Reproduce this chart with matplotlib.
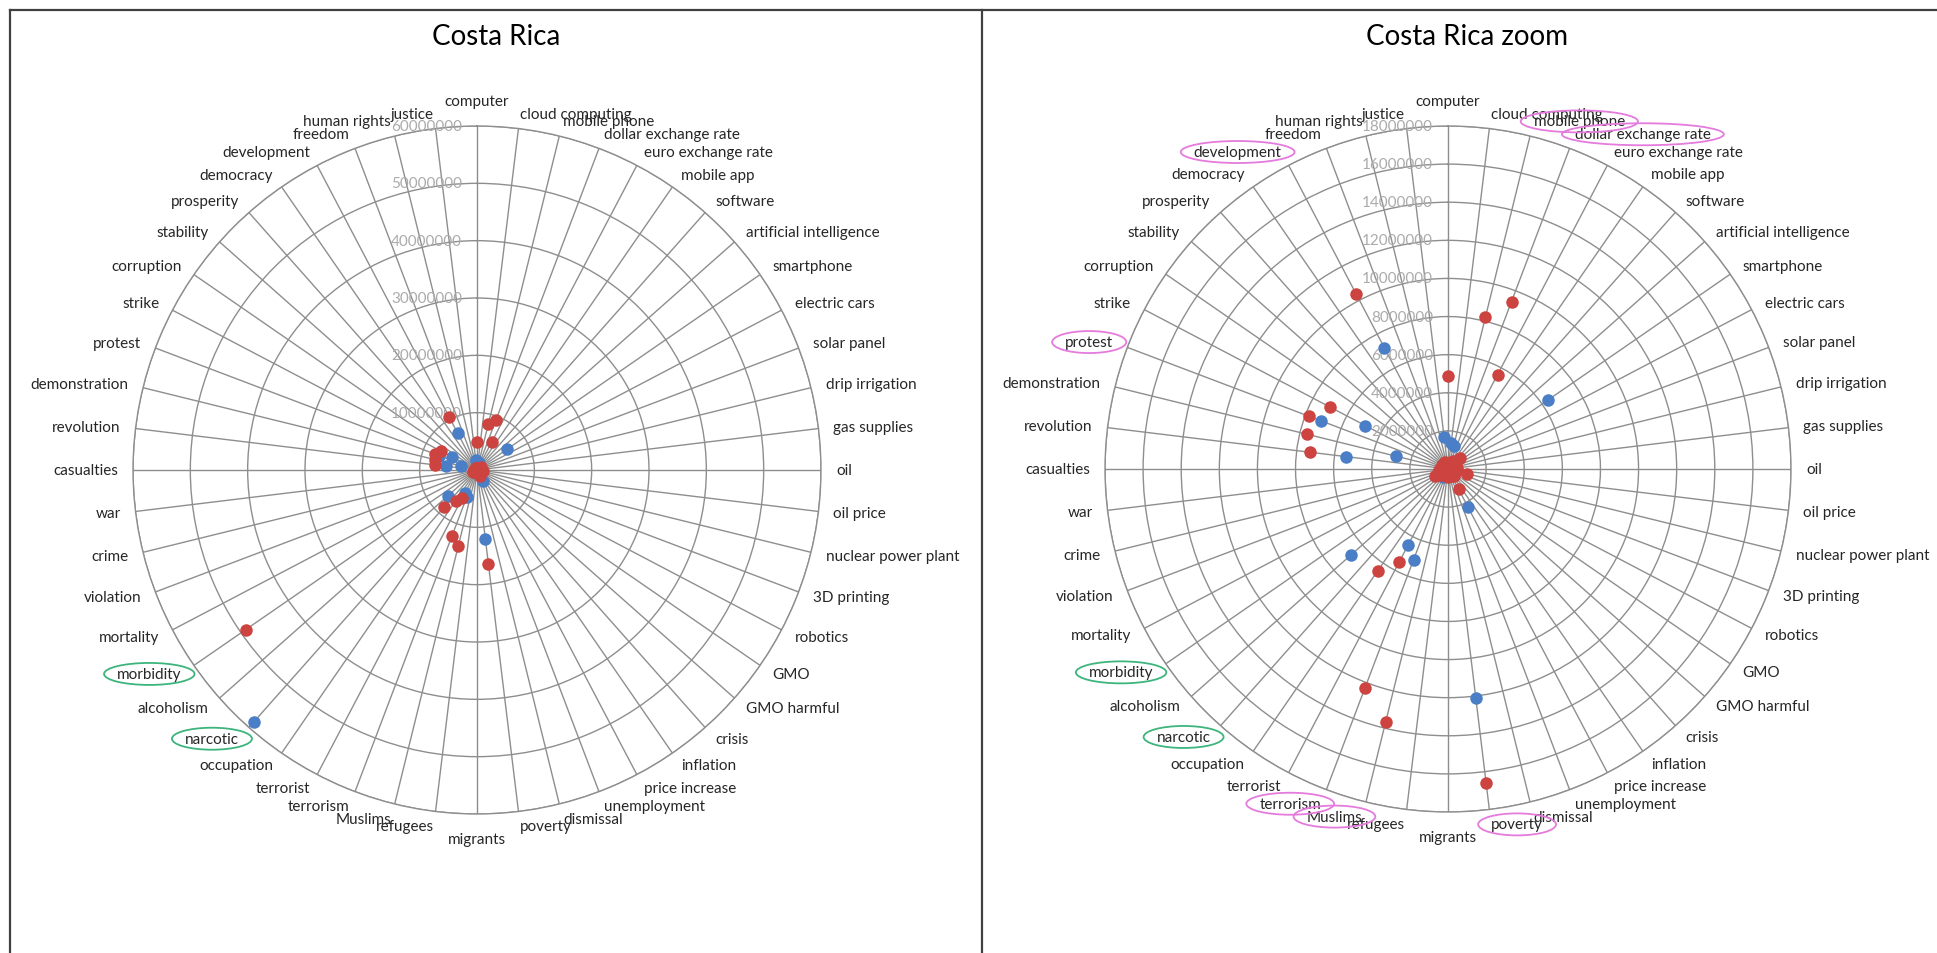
import numpy as np
import matplotlib
matplotlib.use("Agg")
import matplotlib.pyplot as plt
from matplotlib.lines import Line2D
from matplotlib.patches import Ellipse
from matplotlib.transforms import IdentityTransform

# ---------------- data ----------------
categories = [
    "computer", "cloud computing", "mobile phone", "dollar exchange rate",
    "euro exchange rate", "mobile app", "software", "artificial intelligence",
    "smartphone", "electric cars", "solar panel", "drip irrigation",
    "gas supplies", "oil", "oil price", "nuclear power plant", "3D printing",
    "robotics", "GMO", "GMO harmful", "crisis", "inflation", "price increase",
    "unemployment", "dismissal", "poverty", "migrants", "refugees", "Muslims",
    "terrorism", "terrorist", "occupation", "narcotic", "alcoholism",
    "morbidity", "mortality", "violation", "crime", "war", "casualties",
    "revolution", "demonstration", "protest", "strike", "corruption",
    "stability", "prosperity", "democracy", "development", "freedom",
    "human rights", "justice",
]

# values in millions
blue_values = [
    0.3, 1.4, 1.27, 0.3, 0.2, 0.2, 0.3, 0.2, 6.4, 0.1,
    0.1, 0.05, 0.2, 0.3, 0.2, 0.05, 0.1, 0.1, 0.1, 0.05,
    0.3, 0.2, 2.25, 0.3, 0.2, 12.1, 0.3, 0.2, 0.3, 5.1,
    4.5, 0.5, 58.7, 6.8, 0.5, 0.4, 0.2, 0.4, 0.3, 0.2,
    5.4, 2.8, 7.1, 4.9, 0.3, 0.2, 0.2, 0.3, 7.2, 0.3,
    0.2, 1.67,
]
red_values = [
    4.9, 0.3, 8.2, 9.4, 5.6, 0.5, 0.4, 0.87, 0.5, 0.3,
    0.3, 0.2, 0.45, 0.4, 0.5, 1.05, 0.4, 0.3, 0.3, 0.27,
    0.5, 0.4, 1.2, 0.4, 0.3, 16.6, 0.4, 0.3, 13.7, 12.3,
    5.5, 6.5, 0.4, 0.5, 49.0, 0.78, 0.54, 0.5, 0.5, 0.4,
    7.3, 7.6, 7.8, 7.0, 0.37, 0.3, 0.3, 0.4, 10.4, 0.4,
    0.3, 0.3,
]
# the overview chart shows one extra red point at "narcotic"
red_overview_changes = {"narcotic": 8.7}

overview_rings = [10000000, 20000000, 30000000, 40000000, 50000000, 60000000]
zoom_rings = [2000000, 4000000, 6000000, 8000000, 10000000, 12000000,
              14000000, 16000000, 18000000]

titles = ["Costa Rica", "Costa Rica zoom"]

green_marked = ["morbidity", "narcotic"]
pink_marked = ["mobile phone", "dollar exchange rate", "development",
               "protest", "terrorism", "Muslims", "poverty"]

# ---------------- style ----------------
W, H = 1937, 954
FONT = ["Lato", "DejaVu Sans"]
BLUE = "#4A7EC6"
RED = "#CC4340"
GRID = "#8e8e8e"
VAL = "#ababab"
BORDER = "#404040"
GREEN = "#3DB57C"
PINK = "#E47BDD"
FS = 11

plt.rcParams["font.family"] = FONT

fig = plt.figure(figsize=(W / 100, H / 100), dpi=100)
fig.patch.set_facecolor("white")

n = len(categories)
theta = np.arange(n) * 2 * np.pi / n

blue = np.array(blue_values) * 1e6
red = np.array(red_values) * 1e6
red_overview = red.copy()
for k, v in red_overview_changes.items():
    red_overview[categories.index(k)] = v * 1e6


def radar(cx, cy, R, rings, bvals, rvals):
    rect = [(cx - R) / W, 1 - (cy + R) / H, 2 * R / W, 2 * R / H]
    ax = fig.add_axes(rect, projection="polar")
    ax.set_theta_zero_location("N")
    ax.set_theta_direction(-1)
    ax.set_xticks(theta)
    ax.set_xticklabels([])
    ax.set_ylim(0, rings[-1])
    ax.set_yticks(rings)
    ax.set_yticklabels([])
    ax.tick_params(length=0)
    ax.grid(True, color=GRID, lw=1.0)
    ax.spines["polar"].set_color(GRID)
    ax.spines["polar"].set_linewidth(1.0)
    ax.set_facecolor("white")

    ax.plot(theta, bvals, "o", color=BLUE, ms=9, mec="none", zorder=4)
    ax.plot(theta, rvals, "o", color=RED, ms=9, mec="none", zorder=5)

    for r in rings:
        ax.annotate(str(r), xy=(0, r), xycoords="data", xytext=(-15, 0),
                    textcoords="offset pixels", ha="right", va="center",
                    color=VAL, fontsize=FS, zorder=3, annotation_clip=False)

    labels = {}
    for th, name in zip(theta, categories):
        s, c = np.sin(th), np.cos(th)
        if abs(s) < 1e-6:
            ha = "center"
            off = (0, 25 * c)
        else:
            ha = "left" if s > 0 else "right"
            off = (15 * s, 15 * c)
        labels[name] = ax.annotate(
            name, xy=(th, rings[-1]), xycoords="data", xytext=off,
            textcoords="offset pixels", ha=ha, va="center",
            color="#262626", fontsize=FS, annotation_clip=False)
    return ax, labels


ax1, lab1 = radar(477, 471, 344, overview_rings, blue, red_overview)
ax2, lab2 = radar(1448, 470, 343, zoom_rings, blue, red)

fig.text(496 / W, 1 - 37 / H, titles[0], ha="center", va="center",
         fontsize=20, color="black")
fig.text(1467 / W, 1 - 37 / H, titles[1], ha="center", va="center",
         fontsize=20, color="black")

# hand-drawn style ellipses around highlighted labels
fig.canvas.draw()
renderer = fig.canvas.get_renderer()


def mark(text, color):
    bb = text.get_window_extent(renderer)
    cxp = (bb.x0 + bb.x1) / 2
    cyp = (bb.y0 + bb.y1) / 2
    e = Ellipse((cxp, cyp), bb.width + 26, bb.height + 8,
                transform=IdentityTransform(), fill=False,
                edgecolor=color, lw=1.3)
    fig.add_artist(e)


for name in green_marked:
    mark(lab1[name], GREEN)
    mark(lab2[name], GREEN)
for name in pink_marked:
    mark(lab2[name], PINK)

# table borders
fig.add_artist(Line2D([10 / W, 1], [1 - 10.5 / H, 1 - 10.5 / H],
                      transform=fig.transFigure, color=BORDER, lw=1.6))
fig.add_artist(Line2D([10 / W, 10 / W], [0, 1 - 10.5 / H],
                      transform=fig.transFigure, color=BORDER, lw=1.6))
fig.add_artist(Line2D([982 / W, 982 / W], [0, 1 - 10.5 / H],
                      transform=fig.transFigure, color=BORDER, lw=1.6))

fig.savefig("out.png", dpi=100, facecolor="white")
